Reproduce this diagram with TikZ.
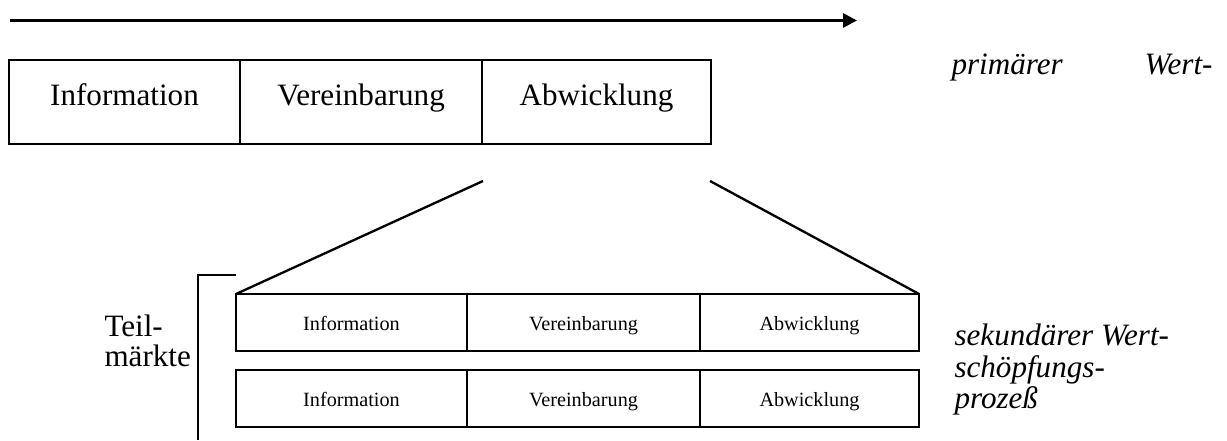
\documentclass[tikz,border=0pt]{standalone}
\usepackage{fontspec}
\setmainfont{Liberation Serif}
\usepackage{tikz}
\usetikzlibrary{arrows.meta,positioning}

\begin{document}
\begin{tikzpicture}[x=0.3858pt, y=-0.3858pt,
    cell/.style={rectangle, draw, line width=0.8pt, inner sep=0pt, outer sep=0pt,
                 minimum height=32.4pt, font=\fontsize{12}{14}\selectfont,
                 text height=8.4pt, text depth=6pt},
    subcell/.style={rectangle, draw, line width=0.8pt, inner sep=0pt, outer sep=0pt,
                 minimum height=22pt, font=\fontsize{7.8}{9}\selectfont,
                 text height=5.85pt, text depth=0pt},
    side/.style={font=\fontsize{12}{12.15}\selectfont\itshape, inner sep=0pt,
                 align=left}]

\useasboundingbox (0,0) rectangle (1227,441);

\coordinate (flowA) at (10,20.5);
\coordinate (flowB) at (857,20.5);
\draw[-{Triangle[length=5.4pt,width=5.4pt]}, line width=1.15pt] (flowA) -- (flowB);

\node[cell, minimum width=89.1pt] (info) at (124.5,102) {Information};
\node[cell, minimum width=93.4pt, right=0pt of info] (ver) {Vereinbarung};
\node[cell, minimum width=88.3pt, right=0pt of ver] (abw) {Abwicklung};

\foreach \r/\yy in {1/322.5, 2/398.5} {
  \node[subcell, minimum width=89.1pt] (info\r) at (351.5,\yy) {Information};
  \node[subcell, minimum width=89.9pt, right=0pt of info\r] (ver\r) {Vereinbarung};
  \node[subcell, minimum width=84.5pt, right=0pt of ver\r] (abw\r) {Abwicklung};
}

\coordinate (zoomL) at (483,181);
\coordinate (zoomR) at (710,181);
\draw[line width=0.9pt] (zoomL) -- (info1.north west);
\draw[line width=0.9pt] (zoomR) -- (abw1.north east);

\coordinate (brTop) at (236,275);
\coordinate (brBot) at (198,440);
\draw[line width=1pt] (brTop) -| (brBot);

\node[font=\fontsize{12}{11.3}\selectfont, align=left, inner sep=0pt,
      anchor=north west] (teil) at (104,314.8) {Teil-\\märkte};

\node[side, anchor=base west] (prim) at (951,75)
    {\makebox[100.7pt][s]{primärer Wert-}};
\node[side, anchor=north west] (sek) at (954,323.8)
    {sekundärer Wert-\\schöpfungs-\\prozeß};
\end{tikzpicture}
\end{document}
